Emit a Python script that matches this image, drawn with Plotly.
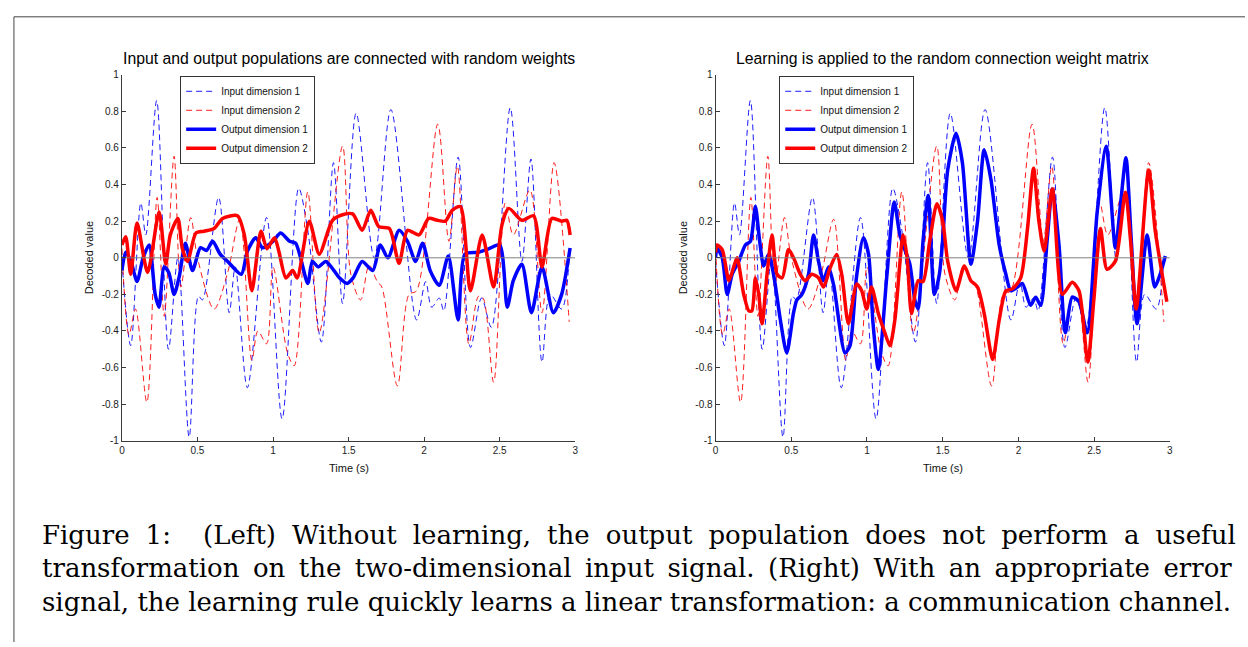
import plotly.graph_objects as go

# ---------------- data ----------------
# Input dimension 1 (shared input signal, both panels)
in1_t = [0.0, 0.058, 0.125, 0.158, 0.23, 0.308, 0.37, 0.445, 0.507, 0.533, 0.64, 0.71, 0.75, 0.83,
         0.957, 1.06, 1.17, 1.23, 1.32, 1.40, 1.46, 1.55, 1.67, 1.78, 1.95, 2.01, 2.05, 2.10, 2.13,
         2.225, 2.307, 2.38, 2.445, 2.57, 2.647, 2.707, 2.78, 2.834, 2.91, 2.96]
in1_v = [-0.02, -0.48, 0.30, 0.125, 0.86, -0.50, 0.0, -0.98, -0.21, -0.23, 0.33, -0.30, -0.05, -0.71,
         0.22, -0.88, 0.38, 0.15, -0.46, 0.52, -0.25, 0.79, 0.0, 0.81, -0.34, -0.13, -0.27, -0.22, -0.29,
         0.55, -0.49, -0.22, -0.38, 0.82, -0.02, 0.54, -0.57, -0.2, -0.28, 0.0]

# Input dimension 2
in2_t = [0.0, 0.047, 0.09, 0.165, 0.233, 0.28, 0.345, 0.39, 0.455, 0.50, 0.61, 0.70, 0.78, 0.86,
         0.90, 0.957, 1.0, 1.096, 1.14, 1.23, 1.306, 1.46, 1.515, 1.58, 1.636, 1.69, 1.72, 1.823,
         1.90, 1.95, 2.09, 2.164, 2.22, 2.296, 2.36, 2.39, 2.46, 2.537, 2.59, 2.70, 2.78, 2.86, 2.96]
in2_v = [0.05, -0.42, -0.28, -0.79, 0.33, -0.32, 0.555, -0.16, 0.22, 0.0, -0.28, -0.08, 0.21, -0.56,
         -0.40, -0.47, -0.05, -0.52, -0.59, 0.36, -0.41, 0.61, -0.09, -0.23, -0.04, -0.13, -0.16, -0.70,
         -0.20, -0.18, 0.73, 0.09, 0.50, -0.47, -0.21, -0.22, -0.68, 0.30, 0.125, 0.37, -0.30, 0.52, -0.35]

# Left panel (random weights): outputs
out1_left_t = [0.0, 0.025, 0.06, 0.10, 0.14, 0.18, 0.22, 0.245, 0.28, 0.31, 0.345, 0.38, 0.42, 0.467,
               0.52, 0.56, 0.60, 0.65, 0.70, 0.79, 0.83, 0.886, 0.93, 1.0, 1.05, 1.11, 1.15, 1.23, 1.26,
               1.30, 1.35, 1.44, 1.49, 1.53, 1.59, 1.66, 1.71, 1.76, 1.835, 1.89, 1.944, 1.99, 2.04,
               2.10, 2.16, 2.225, 2.27, 2.36, 2.43, 2.50, 2.55, 2.59, 2.647, 2.71, 2.78, 2.855, 2.91, 2.966]
out1_left_v = [-0.07, 0.03, -0.02, -0.13, 0.0, 0.07, -0.2, -0.27, -0.05, -0.08, -0.2, -0.1, 0.08, -0.07,
               0.055, 0.04, 0.09, 0.02, -0.02, -0.09, 0.035, 0.11, 0.055, 0.09, 0.135, 0.09, 0.08, -0.14,
               -0.02, -0.05, -0.02, -0.11, -0.14, -0.11, -0.02, -0.07, 0.07, 0.0, 0.15, 0.09, -0.02, 0.08,
               -0.07, -0.15, 0.01, -0.34, 0.02, 0.03, 0.05, 0.07, -0.27, -0.125, -0.035, -0.30, -0.05,
               -0.30, -0.2, 0.054]

out2_left_t = [0.0, 0.025, 0.058, 0.10, 0.17, 0.246, 0.29, 0.32, 0.37, 0.40, 0.434, 0.49, 0.544, 0.61,
               0.666, 0.765, 0.81, 0.86, 0.92, 0.96, 1.01, 1.04, 1.085, 1.13, 1.16, 1.24, 1.306, 1.394,
               1.46, 1.527, 1.59, 1.647, 1.70, 1.77, 1.834, 1.89, 1.966, 2.03, 2.087, 2.14, 2.186, 2.24,
               2.306, 2.384, 2.46, 2.515, 2.56, 2.647, 2.724, 2.78, 2.845, 2.91, 2.944, 2.966]
out2_left_v = [0.07, 0.115, -0.09, 0.19, -0.08, 0.25, -0.035, 0.125, 0.215, 0.05, -0.02, 0.135, 0.145,
               0.16, 0.215, 0.23, 0.125, -0.18, 0.145, 0.05, 0.11, 0.03, -0.11, -0.07, -0.11, 0.2, 0.02,
               0.205, 0.235, 0.24, 0.15, 0.26, 0.17, 0.16, -0.03, 0.15, 0.125, 0.215, 0.205, 0.2, 0.26,
               0.28, -0.18, 0.125, -0.16, 0.18, 0.27, 0.205, 0.23, -0.05, 0.215, 0.2, 0.205, 0.125]

# Right panel (learning applied): outputs
out1_right_t = [0.0, 0.01, 0.044, 0.077, 0.11, 0.153, 0.197, 0.23, 0.263, 0.29, 0.318, 0.35, 0.385,
                0.428, 0.47, 0.515, 0.537, 0.57, 0.614, 0.647, 0.68, 0.713, 0.746, 0.78, 0.855, 0.888,
                0.93, 0.976, 1.01, 1.04, 1.075, 1.13, 1.18, 1.217, 1.25, 1.283, 1.316, 1.338, 1.37,
                1.404, 1.445, 1.478, 1.50, 1.533, 1.588, 1.63, 1.686, 1.73, 1.774, 1.818, 1.873, 1.917,
                1.95, 1.993, 2.026, 2.08, 2.114, 2.147, 2.19, 2.224, 2.268, 2.31, 2.355, 2.40, 2.454,
                2.52, 2.58, 2.64, 2.675, 2.71, 2.745, 2.783, 2.85, 2.90, 2.936, 2.97]
out1_right_v = [0.0, 0.054, 0.0, -0.2, -0.09, -0.02, 0.07, 0.09, 0.28, 0.1, -0.045, 0.02, -0.1, -0.34,
                -0.52, -0.3, -0.23, -0.2, -0.09, 0.125, -0.02, -0.125, -0.05, -0.15, -0.52, -0.48, -0.11,
                0.11, 0.02, -0.36, -0.61, -0.11, 0.305, 0.125, 0.045, -0.035, -0.23, -0.28, 0.09, 0.34,
                -0.2, -0.09, 0.1, 0.48, 0.68, 0.52, -0.035, 0.2, 0.59, 0.43, 0.07, -0.09, -0.18, -0.16,
                -0.14, -0.26, -0.215, -0.26, 0.1, 0.376, 0.07, -0.41, -0.215, -0.24, -0.41, 0.25, 0.61,
                0.054, 0.3, 0.547, 0.1, -0.36, 0.125, -0.16, -0.09, 0.01]

out2_right_t = [0.0, 0.01, 0.044, 0.088, 0.12, 0.142, 0.186, 0.22, 0.24, 0.263, 0.285, 0.307, 0.34,
                0.373, 0.406, 0.44, 0.482, 0.515, 0.56, 0.592, 0.636, 0.68, 0.713, 0.757, 0.8, 0.835,
                0.877, 0.932, 0.965, 0.998, 1.03, 1.075, 1.118, 1.151, 1.184, 1.239, 1.265, 1.294, 1.338,
                1.37, 1.414, 1.462, 1.50, 1.533, 1.588, 1.643, 1.686, 1.73, 1.774, 1.83, 1.873, 1.917,
                1.96, 2.015, 2.06, 2.10, 2.135, 2.17, 2.224, 2.29, 2.355, 2.40, 2.458, 2.498, 2.542,
                2.585, 2.64, 2.706, 2.74, 2.778, 2.86, 2.904, 2.98]
out2_right_v = [0.03, 0.07, 0.045, -0.125, -0.05, 0.0, -0.2, -0.29, -0.29, -0.11, -0.2, -0.36, -0.09,
                0.125, -0.09, -0.11, 0.045, 0.0, -0.09, -0.125, -0.09, -0.11, -0.16, -0.054, 0.018, -0.1,
                -0.36, -0.143, -0.18, -0.28, -0.16, -0.305, -0.41, -0.48, -0.34, 0.125, 0.0, -0.305,
                -0.125, -0.13, 0.09, 0.296, 0.2, -0.02, -0.18, -0.045, -0.125, -0.16, -0.305, -0.556,
                -0.34, -0.18, -0.17, -0.11, 0.16, 0.49, 0.2, 0.036, 0.376, -0.2, -0.134, -0.18, -0.57,
                -0.23, 0.16, -0.063, -0.018, 0.358, 0.1, -0.28, 0.48, 0.143, -0.24]

zero_t = [0, 3]
zero_v = [0, 0]

x_ticks = [0, 0.5, 1, 1.5, 2, 2.5, 3]
x_ticktext = ["0", "0.5", "1", "1.5", "2", "2.5", "3"]
y_ticks = [-1, -0.8, -0.6, -0.4, -0.2, 0, 0.2, 0.4, 0.6, 0.8, 1]
y_ticktext = ["-1", "-0.8", "-0.6", "-0.4", "-0.2", "0", "0.2", "0.4", "0.6", "0.8", "1"]

series_names = ["Input dimension 1", "Input dimension 2", "Output dimension 1", "Output dimension 2"]
titles = ["Input and output populations are connected with random weights",
          "Learning is applied to the random connection weight matrix"]
caption_lines = [
    "Figure 1:  (Left) Without learning, the output population does not perform a useful",
    "transformation on the two-dimensional input signal. (Right) With an appropriate error",
    "signal, the learning rule quickly learns a linear transformation: a communication channel.",
]

# ---------------- figure ----------------
W, H = 1248, 647
BLUE = "rgb(0,0,255)"
RED = "rgb(255,0,0)"
SANS = "Liberation Sans, Arial, sans-serif"
SERIF = "DejaVu Serif, serif"


def px(xp):
    return xp / W


def py(yp):
    return 1 - yp / H


def justify(text, extra):
    # widen the inter-word gaps (the caption is a justified paragraph)
    return text.replace(" ", " " + extra)


fig = go.Figure()

panels = [
    dict(xa="x", ya="y", legend="legend", out1=(out1_left_t, out1_left_v), out2=(out2_left_t, out2_left_v)),
    dict(xa="x2", ya="y2", legend="legend2", out1=(out1_right_t, out1_right_v), out2=(out2_right_t, out2_right_v)),
]

for p in panels:
    common = dict(xaxis=p["xa"], yaxis=p["ya"], legend=p["legend"], mode="lines", hoverinfo="skip")
    fig.add_trace(go.Scatter(x=in1_t, y=in1_v, name=series_names[0],
                             line=dict(color=BLUE, width=0.9, dash="6px,4px", shape="spline", smoothing=0.9),
                             **common))
    fig.add_trace(go.Scatter(x=in2_t, y=in2_v, name=series_names[1],
                             line=dict(color=RED, width=0.9, dash="6px,4px", shape="spline", smoothing=0.9),
                             **common))
    fig.add_trace(go.Scatter(x=p["out1"][0], y=p["out1"][1], name=series_names[2],
                             line=dict(color=BLUE, width=3.5, shape="spline", smoothing=0.7),
                             **common))
    fig.add_trace(go.Scatter(x=p["out2"][0], y=p["out2"][1], name=series_names[3],
                             line=dict(color=RED, width=3.5, shape="spline", smoothing=0.7),
                             **common))
    fig.add_trace(go.Scatter(x=zero_t, y=zero_v, showlegend=False,
                             line=dict(color="rgb(128,128,128)", width=1), **common))

x_domains = [[px(119.5), px(575)], [px(716), px(1172.5)]]
y_domain = [py(442.3), py(70)]

axis_common = dict(showgrid=False, zeroline=False, showline=True, linecolor="#3a3a3a", linewidth=1,
                   ticks="inside", ticklen=4, tickcolor="#3a3a3a", tickwidth=1,
                   tickfont=dict(family=SANS, size=10, color="#222"), fixedrange=True)

for i, suffix in enumerate(["", "2"]):
    fig.update_layout(**{
        "xaxis" + suffix: dict(domain=x_domains[i], range=[0, 3], tickvals=x_ticks, ticktext=x_ticktext,
                               anchor="y" + suffix, **axis_common),
        "yaxis" + suffix: dict(domain=y_domain, range=[-1, 1], tickvals=y_ticks, ticktext=y_ticktext,
                               anchor="x" + suffix, **axis_common),
    })

legend_common = dict(xanchor="left", yanchor="top", bgcolor="white", bordercolor="#333", borderwidth=1,
                     font=dict(family=SANS, size=10, color="#111"), itemwidth=30, tracegroupgap=0,
                     itemclick=False, itemdoubleclick=False)
fig.update_layout(legend=dict(x=px(178), y=py(71), **legend_common),
                  legend2=dict(x=px(780), y=py(71), **legend_common))

annotations = []
for i in range(2):
    cx = (x_domains[i][0] + x_domains[i][1]) / 2
    annotations.append(dict(x=cx, y=py(53), xref="paper", yref="paper", text=titles[i], showarrow=False,
                            xanchor="center", yanchor="middle",
                            font=dict(family=SANS, size=15.8, color="black")))
    annotations.append(dict(x=cx, y=py(470), xref="paper", yref="paper", text="Time (s)", showarrow=False,
                            xanchor="center", yanchor="middle",
                            font=dict(family=SANS, size=11, color="#111")))
    annotations.append(dict(x=px(86 if i == 0 else 683), y=py(256), xref="paper", yref="paper",
                            text="Decoded value", showarrow=False, textangle=-90,
                            xanchor="center", yanchor="middle",
                            font=dict(family=SANS, size=11, color="#111")))

caption_extra = ["\u2009\u200a", "\u2009", ""]
for k, line in enumerate(caption_lines):
    annotations.append(dict(x=px(37), y=py(538 + 34 * k), xref="paper", yref="paper",
                            text=justify(line, caption_extra[k]),
                            showarrow=False, xanchor="left", yanchor="middle",
                            font=dict(family=SERIF, size=26, color="black")))

fig.update_layout(
    width=W, height=H, autosize=False,
    margin=dict(l=0, r=0, t=0, b=0),
    paper_bgcolor="white", plot_bgcolor="white",
    annotations=annotations,
    shapes=[
        dict(type="line", xref="paper", yref="paper", x0=px(11), x1=1, y0=py(11), y1=py(11),
             line=dict(color="#444", width=1)),
        dict(type="line", xref="paper", yref="paper", x0=px(11), x1=px(11), y0=py(11), y1=0,
             line=dict(color="#444", width=1)),
    ],
)

fig.write_html("out.html", config={"responsive": False, "displayModeBar": False},
               post_script="document.body.style.margin='0px';document.body.style.overflow='hidden';")
